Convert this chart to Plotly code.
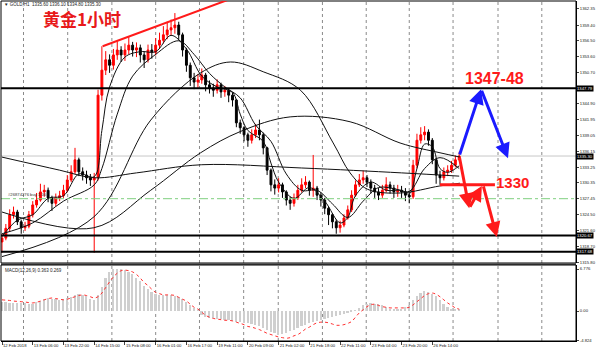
import plotly.graph_objects as go

# ---------------- data (2-hour bars) ----------------
close = [1320.2,1322.0,1324.5,1325.0,1323.2,1322.1,1322.4,1324.5,1326.3,1327.2,
         1328.7,1329.0,1327.6,1326.6,1327.6,1328.0,1329.0,1330.9,1332.4,1334.6,
         1332.4,1331.8,1331.3,1330.9,1331.3,1346.5,1351.1,1353.0,1352.0,1353.9,
         1354.8,1353.9,1354.8,1355.7,1354.8,1355.2,1353.9,1353.0,1354.8,1354.4,
         1355.7,1356.6,1357.6,1358.5,1358.9,1359.4,1357.6,1354.8,1352.0,1349.7,
         1348.9,1349.3,1350.2,1348.4,1347.8,1347.4,1348.4,1347.1,1347.4,1346.5,
         1345.6,1341.4,1340.5,1339.2,1338.2,1339.2,1340.1,1339.2,1336.8,1332.7,
         1330.0,1329.4,1330.0,1328.7,1327.2,1326.6,1327.6,1329.0,1330.0,1330.5,
         1329.0,1329.4,1328.1,1327.2,1325.7,1324.5,1323.2,1322.1,1322.6,1323.9,
         1325.4,1328.1,1330.0,1330.9,1331.3,1330.5,1329.4,1328.7,1328.1,1329.0,
         1330.0,1329.4,1328.7,1329.0,1328.7,1328.1,1327.8,1333.6,1338.2,1339.2,
         1339.7,1338.2,1334.6,1331.8,1331.3,1332.4,1332.7,1333.6,1334.6,1335.3]
openp = [1319.5] + close[:-1]
high = [1321.0,1322.8,1325.5,1326.0,1325.4,1323.6,1323.2,1325.2,1327.0,1328.5,
        1330.2,1330.0,1329.5,1328.0,1328.4,1328.9,1330.0,1331.8,1333.6,1336.8,
        1335.0,1333.2,1332.6,1332.0,1332.2,1347.5,1355.5,1354.6,1354.0,1355.0,
        1356.4,1355.5,1356.0,1357.2,1356.3,1356.2,1355.8,1354.6,1355.8,1355.9,
        1357.0,1358.0,1359.2,1360.0,1360.4,1361.6,1360.0,1358.0,1355.2,1352.5,
        1350.6,1350.4,1351.4,1350.6,1349.2,1348.6,1349.4,1348.8,1348.2,1347.8,
        1347.0,1345.8,1342.0,1340.8,1339.6,1340.2,1341.2,1342.0,1339.6,1337.0,
        1333.0,1331.0,1331.2,1330.4,1329.0,1327.8,1328.4,1330.0,1331.2,1331.6,
        1330.8,1335.5,1329.8,1328.6,1327.6,1326.0,1324.8,1323.6,1323.4,1324.6,
        1326.2,1329.0,1330.8,1332.0,1332.6,1331.8,1331.0,1330.0,1329.4,1330.0,
        1331.4,1330.6,1330.0,1330.0,1329.8,1329.4,1328.8,1334.6,1339.4,1340.6,
        1340.8,1340.2,1338.6,1335.0,1332.6,1333.2,1333.6,1334.4,1335.4,1336.1]
low = [1317.5,1319.8,1321.5,1323.8,1322.6,1321.0,1321.5,1322.0,1324.0,1325.8,
       1326.9,1327.8,1326.8,1325.2,1326.0,1327.0,1327.6,1328.6,1330.5,1332.0,
       1331.6,1330.8,1330.2,1329.8,1317.5,1330.8,1345.5,1350.2,1350.6,1351.2,
       1353.0,1352.6,1352.8,1354.0,1353.6,1353.5,1352.5,1351.5,1352.5,1353.2,
       1353.8,1355.0,1356.0,1356.8,1357.4,1357.8,1356.6,1353.6,1350.8,1348.2,
       1347.6,1347.8,1348.6,1347.2,1346.8,1346.2,1346.8,1346.0,1346.2,1345.2,
       1344.4,1340.6,1339.4,1338.0,1337.0,1337.6,1338.6,1338.2,1335.6,1331.8,
       1328.8,1328.2,1328.6,1327.6,1326.2,1325.4,1326.0,1327.2,1328.6,1329.4,
       1328.0,1327.8,1327.2,1326.0,1324.6,1322.6,1322.0,1321.0,1321.2,1322.2,
       1323.6,1325.0,1327.8,1329.6,1330.2,1329.6,1328.4,1327.6,1327.2,1327.6,
       1328.6,1328.4,1327.6,1327.8,1327.6,1327.0,1326.6,1327.4,1333.0,1337.6,
       1338.2,1337.2,1333.8,1330.2,1330.0,1330.8,1331.6,1332.2,1333.2,1334.8]

# moving averages, sampled (bar index, price)
ma_fast_x = [0,4,8,12,16,20,24,26,28,32,36,40,44,48,52,56,60,62,64,68,70,72,76,80,84,88,90,92,96,100,104,106,108,110,112,114,116,119]
ma_fast_y = [1320.5,1323.5,1324.5,1327.5,1328,1332,1331.5,1340,1348,1353.5,1354.5,1354.5,1357.5,1355,1350,1348,1347,1343,1340,1338,1334,1330.5,1327.5,1329.5,1327,1323,1324,1328,1330.5,1329,1329,1328.3,1333,1337.5,1337,1333,1332.3,1333.5]
ma_mid_x = [0,8,16,24,26,30,34,40,46,50,54,58,62,66,70,74,78,82,86,90,94,98,102,106,110,114,119]
ma_mid_y = [1321,1323,1327,1330,1333,1343,1350,1354,1356.5,1354,1350.5,1348,1346,1341,1338,1332,1329,1329,1326.5,1324,1327,1329.5,1329.3,1328.8,1333,1335,1333]
ma_l1_x = [0,23.9,38.7,51.7,59.5,68,77.7,86.2,90.6,95.1,103.6,114,119.2]
ma_l1_y = [1316.8,1324.1,1341.9,1350.6,1352.6,1350.8,1347.4,1337.7,1332.2,1329.2,1328.5,1329.8,1330.3]
ma_l2_x = [0,23.9,38.7,51.7,62,75,90.6,103.6,114,119.2]
ma_l2_y = [1325.0,1322.1,1329.0,1335.9,1339.8,1342.5,1341.6,1337.7,1335.9,1335.1]
ma_l3_x = [0,15,24,35,52,78,104,119]
ma_l3_y = [1335.1,1332.7,1331.3,1332.2,1333.7,1333.1,1332.2,1331.6]

macd_hist = [1.45,1.4,1.35,1.3,1.3,1.3,1.25,1.15,1.2,1.4,1.6,1.9,2.1,2.0,1.9,1.8,1.9,2.1,2.3,2.6,
             2.7,2.6,2.4,2.0,1.7,2.6,3.8,5.3,6.3,6.7,6.8,6.7,6.6,6.3,5.9,5.4,4.8,4.1,3.6,3.1,
             2.8,2.6,2.6,2.6,2.6,2.5,2.3,1.9,1.5,1.0,0.5,0.1,-0.6,-0.9,-1.1,-1.2,-1.3,-1.35,-1.4,-1.5,
             -1.6,-1.7,-1.8,-1.9,-2.0,-2.1,-2.3,-2.5,-2.8,-3.1,-3.4,-3.6,-3.8,-3.7,-3.5,-3.3,-3.1,-2.8,-2.5,-2.2,
             -1.9,-1.7,-1.6,-1.5,-1.3,-1.1,-0.9,-0.8,-0.6,-0.5,-0.4,-0.2,0.1,0.5,0.9,1.2,1.3,1.2,1.1,0.9,
             0.6,0.4,0.3,0.3,0.35,0.6,1.0,1.8,2.5,2.9,3.2,3.1,2.8,2.4,1.8,1.2,0.7,0.4,0.3,0.2]
macd_signal = [1.8,1.75,1.7,1.6,1.55,1.5,1.45,1.35,1.3,1.4,1.6,1.8,2.0,2.1,2.0,1.9,1.8,1.9,2.1,2.3,
               2.5,2.6,2.5,2.3,2.1,2.3,2.9,3.8,4.7,5.5,6.1,6.5,6.6,6.5,6.3,5.9,5.3,4.6,4.1,3.5,
               3.0,2.8,2.6,2.6,2.6,2.5,2.2,1.9,1.6,1.1,0.6,0.3,-0.2,-0.7,-1.0,-1.2,-1.3,-1.4,-1.5,-1.5,
               -1.6,-1.8,-2.0,-2.2,-2.5,-2.6,-2.8,-3.0,-3.3,-3.6,-3.8,-4.0,-4.2,-4.3,-4.4,-4.3,-4.0,-3.8,-3.4,-2.9,
               -2.6,-2.2,-1.9,-1.8,-1.8,-1.9,-2.1,-2.3,-2.3,-2.2,-2.0,-1.7,-1.0,-0.3,0.2,0.7,1.0,1.1,0.9,0.7,
               0.6,0.5,0.5,0.5,0.5,0.5,0.6,1.0,1.5,2.0,2.5,2.8,2.9,2.7,2.3,1.8,1.3,0.9,0.5,0.3]

time_labels = ["12 Feb 2018","13 Feb 06:00","13 Feb 22:00","14 Feb 15:00","15 Feb 08:00",
               "16 Feb 01:00","16 Feb 17:00","19 Feb 11:00","20 Feb 09:00","21 Feb 02:00",
               "21 Feb 18:00","22 Feb 11:00","23 Feb 04:00","23 Feb 20:00","26 Feb 14:00"]
label_bars = [8 * k for k in range(len(time_labels))]
grid_bars = [5.6, 17.1, 28.6, 40.0, 51.4, 62.9, 71.9, 83.4, 94.8, 106.0, 117.4, 129.1, 140.5]

price_ticks = [1362.35,1359.40,1356.50,1353.60,1350.70,1344.90,1341.95,1339.05,1336.15,
               1333.25,1330.35,1327.45,1324.50,1321.60,1318.70,1315.80]
level_lines = [1347.79, 1320.67, 1317.68]
current_price = 1335.30
order_price = 1327.45
macd_ticks = [6.776, 0.0, -4.824]

n = len(close)
bars = list(range(n))

fig = go.Figure()

fig.add_trace(go.Candlestick(
    x=bars, open=openp, high=high, low=low, close=close,
    increasing=dict(line=dict(color="#ff0000", width=1), fillcolor="#ff0000"),
    decreasing=dict(line=dict(color="#000000", width=1), fillcolor="#000000"),
    whiskerwidth=0, xaxis="x", yaxis="y", showlegend=False))

for xs, ys in [(ma_fast_x, ma_fast_y), (ma_mid_x, ma_mid_y), (ma_l1_x, ma_l1_y),
               (ma_l2_x, ma_l2_y), (ma_l3_x, ma_l3_y)]:
    fig.add_trace(go.Scatter(x=xs, y=ys, mode="lines", line=dict(color="#111111", width=1, shape="spline"),
                             xaxis="x", yaxis="y", showlegend=False, hoverinfo="skip"))

fig.add_trace(go.Bar(x=bars, y=macd_hist, marker=dict(color="#cfcfcf", line=dict(width=0)),
                     width=0.45, xaxis="x2", yaxis="y2", showlegend=False))
fig.add_trace(go.Scatter(x=bars, y=macd_signal, mode="lines",
                         line=dict(color="#ff3030", width=1, dash="dot", shape="spline"),
                         xaxis="x2", yaxis="y2", showlegend=False))

xr = [-0.26, 149.4]
tickfont = dict(family="Liberation Sans", size=4.2, color="#222222")
fig.update_layout(
    width=600, height=355, margin=dict(l=1, r=24, t=1, b=14, autoexpand=False),
    paper_bgcolor="white", plot_bgcolor="white",
    xaxis=dict(domain=[0, 1], range=xr, anchor="y", showticklabels=False, showgrid=False,
               zeroline=False, rangeslider=dict(visible=False), showline=False, ticks="",
               automargin=False),
    yaxis=dict(domain=[0.2294, 1], range=[1315.62, 1363.82], side="right", showgrid=False,
               zeroline=False, tickvals=price_ticks, ticktext=[f"{v:.2f}" for v in price_ticks],
               tickfont=tickfont, ticks="outside", ticklen=2, tickcolor="#444",
               showline=True, linecolor="#000", linewidth=1, automargin=False),
    xaxis2=dict(domain=[0, 1], range=xr, anchor="y2", matches="x", showgrid=False, zeroline=False,
                tickvals=label_bars, ticktext=time_labels, tickfont=tickfont, tickangle=0,
                ticks="outside", ticklen=3, tickcolor="#444", ticklabelposition="outside right",
                showline=True, linecolor="#000", linewidth=1, automargin=False),
    yaxis2=dict(domain=[0, 0.2235], range=[-4.84, 7.42], side="right", showgrid=False,
                zeroline=False, tickvals=macd_ticks, ticktext=["6.776", "0.00", "-4.824"],
                tickfont=tickfont, ticks="outside", ticklen=2, tickcolor="#444",
                showline=True, linecolor="#000", linewidth=1, automargin=False),
    bargap=0, font=dict(family="Liberation Sans"),
)

shapes = []
for g in grid_bars:
    shapes.append(dict(type="line", xref="x", yref="paper", x0=g, x1=g, y0=0, y1=1,
                       line=dict(color="#8a8a8a", width=1, dash="dot"), layer="below"))
for lv in level_lines:
    shapes.append(dict(type="line", xref="paper", yref="y", x0=0, x1=1, y0=lv, y1=lv,
                       line=dict(color="#000000", width=2)))
shapes.append(dict(type="line", xref="paper", yref="y", x0=0, x1=1, y0=current_price, y1=current_price,
                   line=dict(color="#c8c8c8", width=1), layer="below"))
shapes.append(dict(type="line", xref="paper", yref="y", x0=0, x1=1, y0=order_price, y1=order_price,
                   line=dict(color="#7fcf7f", width=1, dash="dashdot")))
# panel frames
shapes.append(dict(type="rect", xref="paper", yref="paper", x0=0, x1=1, y0=0.2294, y1=1,
                   line=dict(color="#000", width=1)))
shapes.append(dict(type="line", xref="paper", yref="paper", x0=0, x1=1, y0=0.2265, y1=0.2265,
                   line=dict(color="#555", width=2)))
shapes.append(dict(type="rect", xref="paper", yref="paper", x0=0, x1=1, y0=0, y1=0.2235,
                   line=dict(color="#000", width=1)))
# user drawn trend line
shapes.append(dict(type="line", xref="x", yref="y", x0=26.2, y0=1355.5, x1=58.7, y1=1364.0,
                   line=dict(color="#ff1a1a", width=2)))
# red 1330 line
shapes.append(dict(type="line", xref="x", yref="y", x0=114, y0=1330.0, x1=128.3, y1=1330.0,
                   line=dict(color="#ff1a1a", width=3)))
fig.update_layout(shapes=shapes)

ann = []
def arrow(x0, y0, x1, y1, color):
    ann.append(dict(x=x1, y=y1, ax=x0, ay=y0, xref="x", yref="y", axref="x", ayref="y",
                    showarrow=True, arrowhead=2, arrowsize=1, arrowwidth=3, arrowcolor=color, text=""))
arrow(119, 1335.3, 124.7, 1347.6, "#1a1aff")
arrow(124.7, 1347.6, 131.7, 1334.9, "#1a1aff")
arrow(119, 1335.3, 121.6, 1325.7, "#ff1a1a")
arrow(121.6, 1325.7, 124.9, 1329.8, "#ff1a1a")
arrow(125.2, 1330.0, 128.8, 1320.4, "#ff1a1a")

ann.append(dict(x=128.2, y=1349.6, xref="x", yref="y", xanchor="center", yanchor="middle",
                text="<b>1347-48</b>", showarrow=False,
                font=dict(family="Liberation Sans", size=16, color="#ff1a1a")))
ann.append(dict(x=132.8, y=1330.4, xref="x", yref="y", xanchor="center", yanchor="middle",
                text="<b>1330</b>", showarrow=False,
                font=dict(family="Liberation Sans", size=15, color="#ff1a1a")))
ann.append(dict(x=81/575, y=1 - 17/340, xref="paper", yref="paper", xanchor="center", yanchor="middle",
                text="<b>黄金1小时</b>", showarrow=False,
                font=dict(family="Noto Sans CJK SC", size=17, color="#e8191a")))
ann.append(dict(x=0.002, y=1 - 4/340, xref="paper", yref="paper", xanchor="left", yanchor="middle",
                text="▼ GOLD,H1  1335.60 1336.10 1334.80 1335.30", showarrow=False,
                font=dict(family="Liberation Sans", size=4.5, color="#222")))
ann.append(dict(x=0.004, y=(341 - 270) / 340, xref="paper", yref="paper", xanchor="left", yanchor="middle",
                text="MACD(12,26,9) 0.363 0.269", showarrow=False,
                font=dict(family="Liberation Sans", size=4.5, color="#222")))
ann.append(dict(x=1.0, y=order_price, xref="x", yref="y", xanchor="left", yanchor="bottom",
                text="#26874276 buy 1.00", showarrow=False,
                font=dict(family="Liberation Sans", size=4.2, color="#333")))
for lv in level_lines + [current_price]:
    ann.append(dict(x=1.0, y=lv, xref="paper", yref="y", xanchor="left", yanchor="middle", text=f"{lv:.2f}",
                    showarrow=False, bgcolor="#000", borderpad=0,
                    font=dict(family="Liberation Sans", size=4.2, color="#fff")))
fig.update_layout(annotations=ann)

fig.write_html("out.html", config={"displayModeBar": False},
               post_script="document.body.style.margin='0';document.body.style.padding='0';")
